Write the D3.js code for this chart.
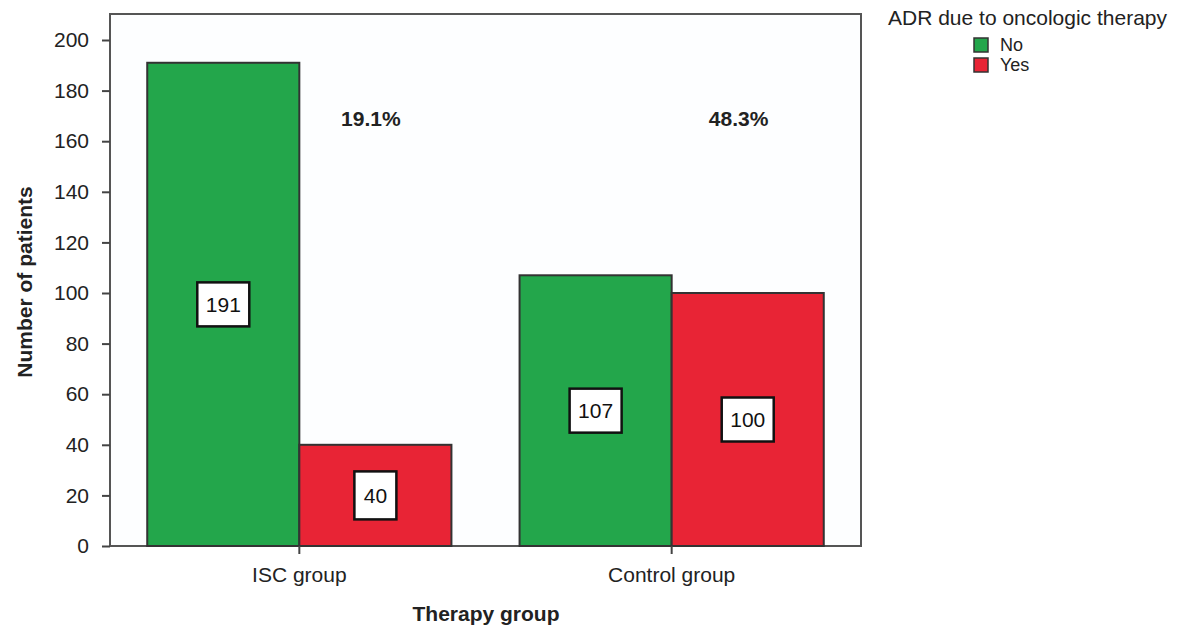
<!DOCTYPE html>
<html>
<head>
<meta charset="utf-8">
<script src="https://cdn.jsdelivr.net/npm/d3@7"></script>
<style>
  html, body { margin: 0; padding: 0; background: #fff; }
  svg { display: block; font-family: "Liberation Sans", Arial, sans-serif; }
</style>
</head>
<body>
<svg id="chart" width="1177" height="628"></svg>
<script>
// Therapy groups and ADR outcome counts
const groups = ["ISC group", "Control group"];
const outcomes = ["No", "Yes"];
const noValues = [191, 107];
const yesValues = [40, 100];
const adrRates = ["19.1%", "48.3%"];
const yTicks = [0, 20, 40, 60, 80, 100, 120, 140, 160, 180, 200];

const colors = { No: "#23a64b", Yes: "#e82435" };
const FONT = 21;

const svg = d3.select("#chart");
const frame = { left: 110, right: 861, top: 14, bottom: 546 };

const x0 = d3.scaleBand()
  .domain(groups)
  .range([frame.left, frame.right])
  .paddingInner(0.183)
  .paddingOuter(0.1);

const x1 = d3.scaleBand()
  .domain(outcomes)
  .range([0, x0.bandwidth()])
  .padding(0);

const y = d3.scaleLinear()
  .domain([0, 200])
  .range([frame.bottom, 40]);

// plot frame
svg.append("rect")
  .attr("x", frame.left).attr("y", frame.top)
  .attr("width", frame.right - frame.left)
  .attr("height", frame.bottom - frame.top)
  .attr("fill", "#fdfeff")
  .attr("stroke", "#555")
  .attr("stroke-width", 2);

const rows = groups.map((g, i) => ({
  group: g,
  values: [
    { key: "No", value: noValues[i] },
    { key: "Yes", value: yesValues[i] }
  ]
}));

// bars
const gGroups = svg.selectAll("g.group")
  .data(rows)
  .join("g")
  .attr("class", "group")
  .attr("transform", d => `translate(${x0(d.group)},0)`);

gGroups.selectAll("rect.bar")
  .data(d => d.values)
  .join("rect")
  .attr("class", "bar")
  .attr("x", d => x1(d.key))
  .attr("y", d => y(d.value))
  .attr("width", x1.bandwidth())
  .attr("height", d => y(0) - y(d.value))
  .attr("fill", d => colors[d.key])
  .attr("stroke", "#333")
  .attr("stroke-width", 2);

// value boxes at mid-height of each bar
const labels = gGroups.selectAll("g.vlabel")
  .data(d => d.values)
  .join("g")
  .attr("class", "vlabel")
  .attr("transform", d => `translate(${x1(d.key) + x1.bandwidth() / 2},${(y(d.value) + y(0)) / 2})`);

labels.append("rect")
  .attr("x", d => String(d.value).length > 2 ? -26 : -21)
  .attr("y", d => String(d.value).length > 2 ? -22 : -24)
  .attr("width", d => String(d.value).length > 2 ? 52 : 42)
  .attr("height", d => String(d.value).length > 2 ? 44 : 48)
  .attr("fill", "#fff")
  .attr("stroke", "#111")
  .attr("stroke-width", 2.5);

labels.append("text")
  .attr("text-anchor", "middle")
  .attr("dy", "0.36em")
  .attr("font-size", FONT)
  .attr("fill", "#111")
  .text(d => d.value);

// ADR rate per group
svg.selectAll("text.rate")
  .data(groups)
  .join("text")
  .attr("class", "rate")
  .attr("x", (g, i) => x0(g) + x1("Yes") + x1.bandwidth() * (i === 0 ? 0.47 : 0.44))
  .attr("y", 126)
  .attr("text-anchor", "middle")
  .attr("font-size", FONT)
  .attr("font-weight", "bold")
  .attr("fill", "#222")
  .text((g, i) => adrRates[i]);

// y axis
const yAxis = svg.append("g")
  .attr("transform", `translate(${frame.left},0)`)
  .call(d3.axisLeft(y).tickValues(yTicks).tickSize(8).tickPadding(13));
yAxis.select(".domain").remove();
yAxis.selectAll(".tick line").attr("stroke", "#444").attr("stroke-width", 2);
yAxis.selectAll(".tick text").attr("font-size", FONT).attr("fill", "#222")
  .attr("font-family", "Liberation Sans, Arial, sans-serif");

// x axis
const xAxis = svg.append("g")
  .attr("transform", `translate(0,${frame.bottom})`)
  .call(d3.axisBottom(x0).tickSize(8).tickPadding(13));
xAxis.select(".domain").remove();
xAxis.selectAll(".tick line").attr("stroke", "#444").attr("stroke-width", 2);
xAxis.selectAll(".tick text").attr("font-size", FONT).attr("fill", "#222")
  .attr("font-family", "Liberation Sans, Arial, sans-serif");

// axis titles
svg.append("text")
  .attr("x", 486)
  .attr("y", 621)
  .attr("text-anchor", "middle")
  .attr("font-size", FONT)
  .attr("font-weight", "bold")
  .attr("fill", "#222")
  .text("Therapy group");

svg.append("text")
  .attr("transform", `translate(32,${(frame.top + frame.bottom) / 2 + 2}) rotate(-90)`)
  .attr("text-anchor", "middle")
  .attr("font-size", FONT)
  .attr("font-weight", "bold")
  .attr("fill", "#222")
  .text("Number of patients");

// legend
const legend = svg.append("g").attr("transform", "translate(888,0)");
legend.append("text")
  .attr("x", 0).attr("y", 25)
  .attr("font-size", FONT)
  .attr("fill", "#222")
  .text("ADR due to oncologic therapy");

const items = legend.selectAll("g.item")
  .data(outcomes)
  .join("g")
  .attr("class", "item")
  .attr("transform", (d, i) => `translate(86,${38 + i * 20})`);
items.append("rect")
  .attr("width", 14).attr("height", 14)
  .attr("fill", d => colors[d])
  .attr("stroke", "#333")
  .attr("stroke-width", 1.5);
items.append("text")
  .attr("x", 26).attr("y", 13)
  .attr("font-size", FONT - 3)
  .attr("fill", "#222")
  .text(d => d);
</script>
</body>
</html>
